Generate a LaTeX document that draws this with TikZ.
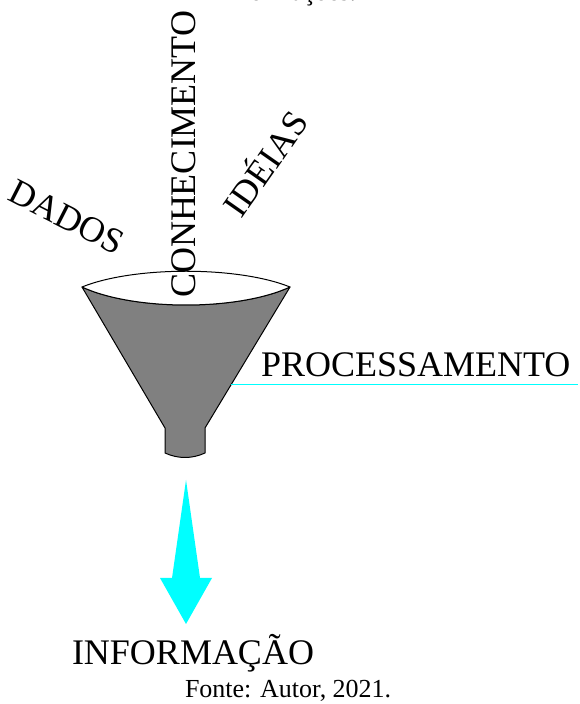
\documentclass[tikz,border=0pt]{standalone}
\usepackage{fontspec}
\setmainfont{Liberation Serif}
\definecolor{funnelgray}{HTML}{808080}
\definecolor{aqua}{HTML}{00FFFF}
\newcommand{\fsz}[1]{\fontsize{#1}{#1}\selectfont}
\tikzset{
  lbl/.style={inner sep=0pt, outer sep=0pt, text=black},
  biglbl/.style={lbl, font=\fsz{36}},
  smalllbl/.style={lbl, font=\fsz{26}},
  capsbox/.style={text height=23.8pt, text depth=0pt},
  funnelline/.style={draw=black, line width=1pt, line join=round},
}
\begin{document}
\begin{tikzpicture}[x=1pt,y=1pt]
\useasboundingbox (0,0) rectangle (579,704);
\clip (0,0) rectangle (579,704);
\fill[white] (0,0) rectangle (579,704);

% funnel key points
\coordinate (L) at (82,417);
\coordinate (R) at (290,417);
\coordinate (NLt) at (165,276);
\coordinate (NLb) at (165,251);
\coordinate (NRt) at (205,276);
\coordinate (NRb) at (205,251);

% funnel body
\filldraw[funnelline, fill=funnelgray]
  (L) -- (NLt) -- (NLb) .. controls (178,245) and (192,245) .. (NRb)
  -- (NRt) -- (R) .. controls (238,393) and (134,393) .. (L) -- cycle;
% funnel mouth (lens)
\filldraw[funnelline, fill=white]
  (L) .. controls (134,438) and (238,438) .. (R)
      .. controls (238,393) and (134,393) .. (L) -- cycle;

% processamento line
\coordinate (edge) at (231,319);
\coordinate (rightend) at (578,319);
\draw[aqua, line width=1pt] (edge) -- (rightend);

% output arrow
\coordinate (atop) at (186,224);
\coordinate (atip) at (186,80);
\fill[aqua] (atop) -- (200,126) -- (212,126) -- (atip) -- (160,126) -- (172,126) -- cycle;

% texts
\node[smalllbl, anchor=base west] (top) at (221,703) {informações.};
\node[biglbl, anchor=base west, rotate=90] (conh) at (195,406) {CONHECIMENTO};
\node[biglbl, capsbox, anchor=center, rotate=-27] (dados) at (67,487) {DADOS};
\node[biglbl, capsbox, anchor=center, rotate=55] (ideias) at (266,540) {IDÉIAS};
\node[biglbl, anchor=base west] (proc) at (261,327) {PROCESSAMENTO};
\node[biglbl, anchor=base west] (info) at (72,39) {INFORMAÇÃO};
\node[smalllbl, anchor=base west] (fonte) at (185,6) {Fonte: Autor, 2021.};
\end{tikzpicture}
\end{document}
